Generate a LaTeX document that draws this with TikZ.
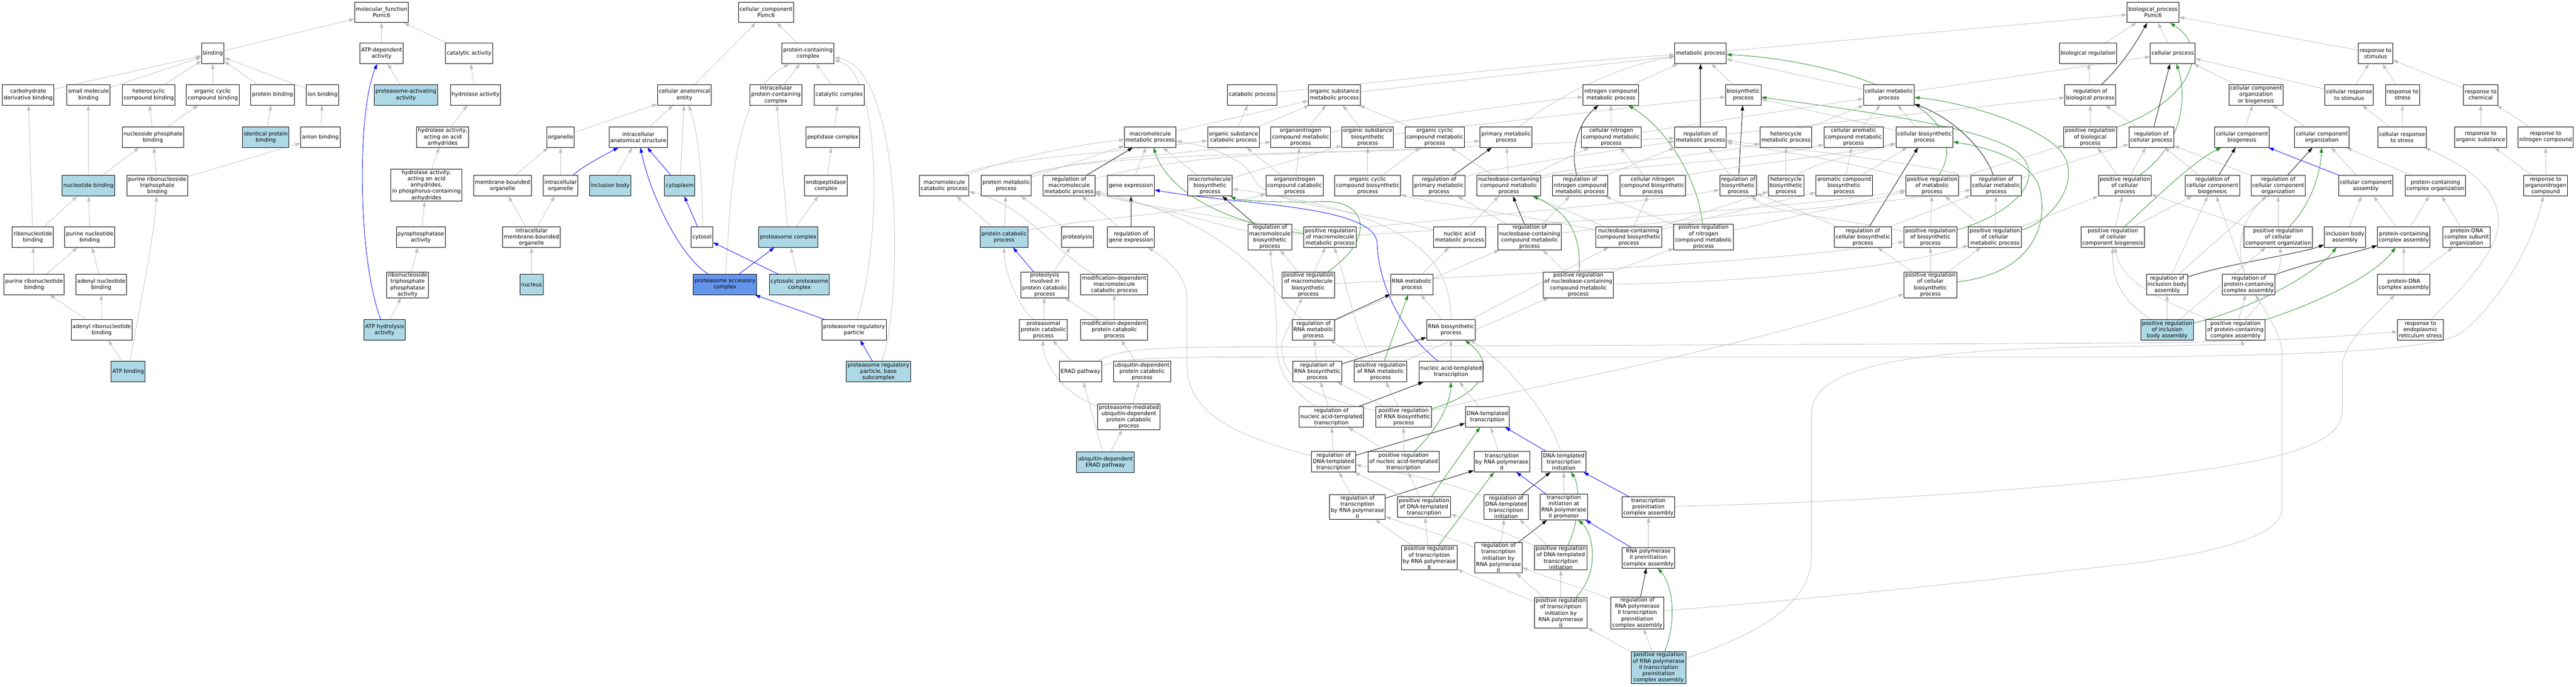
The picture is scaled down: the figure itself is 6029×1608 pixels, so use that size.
\documentclass[tikz,border=0pt]{standalone}
\usepackage{fontspec}
\setmainfont{DejaVu Sans}
\usetikzlibrary{arrows.meta,
  backgrounds}
\definecolor{edgegray}{RGB}{190,190,190}
\definecolor{forest}{RGB}{34,139,34}
\definecolor{lightblue}{RGB}{173,216,230}
\definecolor{cornflower}{RGB}{100,149,237}
\newcommand{\gofont}{\fontsize{12.6}{14.6}\selectfont}

\begin{document}
\begin{tikzpicture}[x=1pt,y=-1pt]
      \tikzstyle{term}=[draw=black,line width=1.2pt,fill=white,rectangle,align=center,inner xsep=3pt,inner ysep=2pt,minimum height=48pt,font=\gofont]
      \tikzstyle{hit}=[term,fill=lightblue]
      \tikzstyle{sel}=[term,fill=cornflower]
      \tikzstyle{isa}=[draw=edgegray,line width=1pt,-{Triangle[length=12pt,width=8pt]}]
      \tikzstyle{reg}=[isa,draw=black]
      \tikzstyle{preg}=[isa,draw=forest]
      \tikzstyle{prt}=[isa,draw=blue]
      \useasboundingbox (0,0) rectangle (6029,1608);
      % molecular function
      \node[term] (mf) at (893,29) {molecular\_function\\Psmc6};
      \node[term] (bind) at (498,125) {binding};
      \node[term] (atpdep) at (893,125) {ATP-dependent\\activity};
      \node[term] (cat) at (1098,125) {catalytic activity};
      \node[term] (carb) at (66,222) {carbohydrate\\derivative binding};
      \node[term] (smol) at (207,222) {small molecule\\binding};
      \node[term] (hetb) at (348,222) {heterocyclic\\compound binding};
      \node[term] (ocb) at (498,222) {organic cyclic\\compound binding};
      \node[term] (protb) at (638,222) {protein binding};
      \node[term] (ionb) at (755,222) {ion binding};
      \node[hit] (pact) at (950,222) {proteasome-activating\\activity};
      \node[term] (hydr) at (1113,222) {hydrolase activity};
      \node[term] (nspb) at (358,321) {nucleoside phosphate\\binding};
      \node[hit] (idpb) at (622,321) {identical protein\\binding};
      \node[term] (anb) at (750,321) {anion binding};
      \node[term] (hyacid) at (1036,321) {hydrolase activity,\\acting on acid\\anhydrides};
      \node[hit] (ntb) at (207,435) {nucleotide binding};
      \node[term] (prtb) at (368,435) {purine ribonucleoside\\triphosphate\\binding};
      \node[term] (hyphos) at (998,434) {hydrolase activity,\\acting on acid\\anhydrides,\\in phosphorus-containing\\anhydrides};
      \node[term] (rnb) at (77,555) {ribonucleotide\\binding};
      \node[term] (pnb) at (210,555) {purine nucleotide\\binding};
      \node[term] (ppase) at (985,555) {pyrophosphatase\\activity};
      \node[term] (prnb) at (80,666) {purine ribonucleotide\\binding};
      \node[term] (adnb) at (237,666) {adenyl nucleotide\\binding};
      \node[term] (rtpase) at (954,667) {ribonucleoside\\triphosphate\\phosphatase\\activity};
      \node[term] (arnb) at (238,772) {adenyl ribonucleotide\\binding};
      \node[hit] (atphyd) at (900,772) {ATP hydrolysis\\activity};
      \node[hit] (atpb) at (300,870) {ATP binding};
      % cellular component
      \node[term] (cc) at (1793,29) {cellular\_component\\Psmc6};
      \node[term] (pcc) at (1891,125) {protein-containing\\complex};
      \node[term] (cae) at (1602,222) {cellular anatomical\\entity};
      \node[term] (ipcc) at (1816,222) {intracellular\\protein-containing\\complex};
      \node[term] (catc) at (1964,222) {catalytic complex};
      \node[term] (org) at (1312,321) {organelle};
      \node[term] (ias) at (1494,321) {intracellular\\anatomical structure};
      \node[term] (pepc) at (1949,321) {peptidase complex};
      \node[term] (mbo) at (1176,435) {membrane-bounded\\organelle};
      \node[term] (io) at (1312,435) {intracellular\\organelle};
      \node[hit] (incb) at (1428,435) {inclusion body};
      \node[hit] (cyto) at (1591,435) {cytoplasm};
      \node[term] (endoc) at (1933,435) {endopeptidase\\complex};
      \node[term] (imbo) at (1244,555) {intracellular\\membrane-bounded\\organelle};
      \node[term] (cytosol) at (1643,555) {cytosol};
      \node[hit] (prc) at (1845,555) {proteasome complex};
      \node[hit] (nuc) at (1244,666) {nucleus};
      \node[sel] (pac) at (1697,666) {proteasome accessory\\complex};
      \node[hit] (cpc) at (1871,666) {cytosolic proteasome\\complex};
      \node[term] (prp) at (1999,772) {proteasome regulatory\\particle};
      \node[hit] (prpb) at (2056,870) {proteasome regulatory\\particle, base\\subcomplex};
      % biological process
      \node[term] (bp) at (5039,29) {biological\_process\\Psmc6};
      \node[term] (met) at (3980,125) {metabolic process};
      \node[term] (breg) at (4887,125) {biological regulation};
      \node[term] (cp) at (5085,125) {cellular process};
      \node[term] (rstim) at (5560,125) {response to\\stimulus};
      \node[term] (catp) at (2931,222) {catabolic process};
      \node[term] (osmp) at (3123,222) {organic substance\\metabolic process};
      \node[term] (nitm) at (3770,222) {nitrogen compound\\metabolic process};
      \node[term] (bios) at (4080,222) {biosynthetic\\process};
      \node[term] (cmp) at (4421,222) {cellular metabolic\\process};
      \node[term] (rbp) at (4892,222) {regulation of\\biological process};
      \node[term] (ccob) at (5280,222) {cellular component\\organization\\or biogenesis};
      \node[term] (crstim) at (5498,222) {cellular response\\to stimulus};
      \node[term] (rstress) at (5623,222) {response to\\stress};
      \node[term] (rchem) at (5806,222) {response to\\chemical};
      \node[term] (mmp) at (2692,321) {macromolecule\\metabolic process};
      \node[term] (oscp) at (2887,321) {organic substance\\catabolic process};
      \node[term] (onmp) at (3044,321) {organonitrogen\\compound metabolic\\process};
      \node[term] (osbp) at (3201,321) {organic substance\\biosynthetic\\process};
      \node[term] (occmp) at (3358,321) {organic cyclic\\compound metabolic\\process};
      \node[term] (pmp) at (3525,321) {primary metabolic\\process};
      \node[term] (cnmp) at (3771,321) {cellular nitrogen\\compound metabolic\\process};
      \node[term] (rmp) at (3980,321) {regulation of\\metabolic process};
      \node[term] (hmp) at (4180,321) {heterocycle\\metabolic process};
      \node[term] (camp) at (4338,321) {cellular aromatic\\compound metabolic\\process};
      \node[term] (cbp) at (4504,321) {cellular biosynthetic\\process};
      \node[term] (prbp) at (4892,321) {positive regulation\\of biological\\process};
      \node[term] (rcp) at (5035,321) {regulation of\\cellular process};
      \node[term] (ccb) at (5247,321) {cellular component\\biogenesis};
      \node[term] (cco) at (5434,321) {cellular component\\organization};
      \node[term] (crstress) at (5622,321) {cellular response\\to stress};
      \node[term] (rorg) at (5806,321) {response to\\organic substance};
      \node[term] (rnit) at (5958,321) {response to\\nitrogen compound};
      \node[term] (mcp) at (2210,435) {macromolecule\\catabolic process};
      \node[term] (protm) at (2355,435) {protein metabolic\\process};
      \node[term] (rmmp) at (2502,435) {regulation of\\macromolecule\\metabolic process};
      \node[term] (gex) at (2647,435) {gene expression};
      \node[term] (mbp) at (2832,435) {macromolecule\\biosynthetic\\process};
      \node[term] (onc) at (3030,435) {organonitrogen\\compound catabolic\\process};
      \node[term] (occb) at (3201,435) {organic cyclic\\compound biosynthetic\\process};
      \node[term] (rpmp) at (3368,435) {regulation of\\primary metabolic\\process};
      \node[term] (nbmp) at (3531,435) {nucleobase-containing\\compound metabolic\\process};
      \node[term] (rnitm) at (3698,435) {regulation of\\nitrogen compound\\metabolic process};
      \node[term] (cnbp) at (3868,435) {cellular nitrogen\\compound biosynthetic\\process};
      \node[term] (rbios) at (4068,435) {regulation of\\biosynthetic\\process};
      \node[term] (hbp) at (4180,435) {heterocycle\\biosynthetic\\process};
      \node[term] (abp) at (4316,435) {aromatic compound\\biosynthetic\\process};
      \node[term] (prmp) at (4522,435) {positive regulation\\of metabolic\\process};
      \node[term] (rcmp) at (4672,435) {regulation of\\cellular metabolic\\process};
      \node[term] (prcp) at (4973,435) {positive regulation\\of cellular\\process};
      \node[term] (rccb) at (5178,435) {regulation of\\cellular component\\biogenesis};
      \node[term] (rcco) at (5332,435) {regulation of\\cellular component\\organization};
      \node[term] (cca) at (5537,435) {cellular component\\assembly};
      \node[term] (pcco) at (5700,435) {protein-containing\\complex organization};
      \node[term] (ronc) at (5958,435) {response to\\organonitrogen\\compound};
      \node[hit] (pcat) at (2350,555) {protein catabolic\\process};
      \node[term] (prot) at (2522,555) {proteolysis};
      \node[term] (rgex) at (2647,555) {regulation of\\gene expression};
      \node[term] (rmbp) at (2972,555) {regulation of\\macromolecule\\biosynthetic\\process};
      \node[term] (prmmp) at (3113,555) {positive regulation\\of macromolecule\\metabolic process};
      \node[term] (namp) at (3416,555) {nucleic acid\\metabolic process};
      \node[term] (rnbmp) at (3580,555) {regulation of\\nucleobase-containing\\compound metabolic\\process};
      \node[term] (nbbp) at (3812,555) {nucleobase-containing\\compound biosynthetic\\process};
      \node[term] (prnitm) at (3987,555) {positive regulation\\of nitrogen\\compound metabolic\\process};
      \node[term] (rcbp) at (4360,555) {regulation of\\cellular biosynthetic\\process};
      \node[term] (prbios) at (4518,555) {positive regulation\\of biosynthetic\\process};
      \node[term] (prcmp) at (4669,555) {positive regulation\\of cellular\\metabolic process};
      \node[term] (prccb) at (4945,555) {positive regulation\\of cellular\\component biogenesis};
      \node[term] (prcco) at (5332,555) {positive regulation\\of cellular\\component organization};
      \node[term] (iba) at (5488,555) {inclusion body\\assembly};
      \node[term] (pcca) at (5626,555) {protein-containing\\complex assembly};
      \node[term] (pdnao) at (5773,555) {protein-DNA\\complex subunit\\organization};
      \node[term] (pipc) at (2445,667) {proteolysis\\involved in\\protein catabolic\\process};
      \node[term] (mdmc) at (2608,666) {modification-dependent\\macromolecule\\catabolic process};
      \node[term] (prmbp) at (3062,667) {positive regulation\\of macromolecule\\biosynthetic\\process};
      \node[term] (rnamp) at (3304,666) {RNA metabolic\\process};
      \node[term] (prnbmp) at (3694,667) {positive regulation\\of nucleobase-containing\\compound metabolic\\process};
      \node[term] (prcbp) at (4518,667) {positive regulation\\of cellular\\biosynthetic\\process};
      \node[term] (riba) at (5072,666) {regulation of\\inclusion body\\assembly};
      \node[term] (rpcca) at (5263,666) {regulation of\\protein-containing\\complex assembly};
      \node[term] (pdnaa) at (5626,666) {protein-DNA\\complex assembly};
      \node[term] (ppcp) at (2442,772) {proteasomal\\protein catabolic\\process};
      \node[term] (mdpc) at (2608,772) {modification-dependent\\protein catabolic\\process};
      \node[term] (rrnamp) at (3074,772) {regulation of\\RNA metabolic\\process};
      \node[term] (rnabp) at (3396,772) {RNA biosynthetic\\process};
      \node[hit] (priba) at (5072,772) {positive regulation\\of inclusion\\body assembly};
      \node[term] (prpcca) at (5232,772) {positive regulation\\of protein-containing\\complex assembly};
      \node[term] (rers) at (5665,772) {response to\\endoplasmic\\reticulum stress};
      \node[term] (erad) at (2529,870) {ERAD pathway};
      \node[term] (udpc) at (2673,870) {ubiquitin-dependent\\protein catabolic\\process};
      \node[term] (rrnabp) at (3083,870) {regulation of\\RNA biosynthetic\\process};
      \node[term] (prrnamp) at (3231,870) {positive regulation\\of RNA metabolic\\process};
      \node[term] (natt) at (3396,870) {nucleic acid-templated\\transcription};
      \node[term] (pmud) at (2642,976) {proteasome-mediated\\ubiquitin-dependent\\protein catabolic\\process};
      \node[term] (rnatt) at (3116,976) {regulation of\\nucleic acid-templated\\transcription};
      \node[term] (prrnabp) at (3285,976) {positive regulation\\of RNA biosynthetic\\process};
      \node[term] (dtt) at (3481,976) {DNA-templated\\transcription};
      \node[hit] (uerad) at (2587,1082) {ubiquitin-dependent\\ERAD pathway};
      \node[term] (rdtt) at (3121,1081) {regulation of\\DNA-templated\\transcription};
      \node[term] (prnatt) at (3285,1081) {positive regulation\\of nucleic acid-templated\\transcription};
      \node[term] (tpol) at (3515,1081) {transcription\\by RNA polymerase\\II};
      \node[term] (dtti) at (3660,1081) {DNA-templated\\transcription\\initiation};
      \node[term] (rtpol) at (3177,1187) {regulation of\\transcription\\by RNA polymerase\\II};
      \node[term] (prdtt) at (3333,1187) {positive regulation\\of DNA-templated\\transcription};
      \node[term] (rdtti) at (3525,1187) {regulation of\\DNA-templated\\transcription\\initiation};
      \node[term] (tipol) at (3660,1187) {transcription\\initiation at\\RNA polymerase\\II promoter};
      \node[term] (tpica) at (3858,1187) {transcription\\preinitiation\\complex assembly};
      \node[term] (prtpol) at (3345,1306) {positive regulation\\of transcription\\by RNA polymerase\\II};
      \node[term] (rtipol) at (3507,1306) {regulation of\\transcription\\initiation by\\RNA polymerase\\II};
      \node[term] (prdtti) at (3653,1306) {positive regulation\\of DNA-templated\\transcription\\initiation};
      \node[term] (pica) at (3858,1306) {RNA polymerase\\II preinitiation\\complex assembly};
      \node[term] (prtipol) at (3653,1435) {positive regulation\\of transcription\\initiation by\\RNA polymerase\\II};
      \node[term] (rpica) at (3832,1435) {regulation of\\RNA polymerase\\II transcription\\preinitiation\\complex assembly};
      \node[hit] (prpica) at (3882,1563) {positive regulation\\of RNA polymerase\\II transcription\\preinitiation\\complex assembly};

      \begin{scope}[on background layer]
      \fill[white] (0,0) rectangle (6029,1608);
      % molecular function edges
      \draw[isa] (bind) -- (mf);
      \draw[isa] (atpdep) -- (mf);
      \draw[isa] (cat) -- (mf);
      \draw[isa] (carb) -- (bind);
      \draw[isa] (smol) -- (bind);
      \draw[isa] (hetb) -- (bind);
      \draw[isa] (ocb) -- (bind);
      \draw[isa] (protb) -- (bind);
      \draw[isa] (ionb) -- (bind);
      \draw[isa] (pact) -- (atpdep);
      \draw[isa] (hydr) -- (cat);
      \draw[isa] (nspb) -- (hetb);
      \draw[isa] (nspb) -- (ocb);
      \draw[isa] (idpb) -- (protb);
      \draw[isa] (anb) -- (ionb);
      \draw[isa] (hyacid) -- (hydr);
      \draw[isa] (ntb) -- (smol);
      \draw[isa] (ntb) -- (nspb);
      \draw[isa] (prtb) -- (nspb);
      \draw[isa] (prtb) -- (anb);
      \draw[isa] (hyphos) -- (hyacid);
      \draw[isa] (rnb) -- (carb);
      \draw[isa] (rnb) -- (ntb);
      \draw[isa] (pnb) -- (ntb);
      \draw[isa] (ppase) -- (hyphos);
      \draw[isa] (prnb) -- (rnb);
      \draw[isa] (prnb) -- (pnb);
      \draw[isa] (adnb) -- (pnb);
      \draw[isa] (rtpase) -- (ppase);
      \draw[isa] (arnb) -- (prnb);
      \draw[isa] (arnb) -- (adnb);
      \draw[isa] (atphyd) -- (rtpase);
      \draw[prt] (atphyd) .. controls (836,600) and (836,260) .. (atpdep);
      \draw[isa] (atpb) -- (arnb);
      \draw[isa] (atpb) .. controls (330,700) and (360,560) .. (prtb);
      % cellular component edges
      \draw[isa] (cae) -- (cc);
      \draw[isa] (pcc) -- (cc);
      \draw[isa] (ipcc) -- (pcc);
      \draw[isa] (catc) -- (pcc);
      \draw[isa] (org) -- (cae);
      \draw[isa] (ias) -- (cae);
      \draw[isa] (cyto) -- (cae);
      \draw[isa] (cytosol) .. controls (1646,420) and (1632,300) .. (cae);
      \draw[isa] (pepc) -- (catc);
      \draw[isa] (endoc) -- (pepc);
      \draw[isa] (mbo) -- (org);
      \draw[isa] (io) -- (org);
      \draw[prt] (io) .. controls (1370,385) and (1420,360) .. (ias);
      \draw[isa] (incb) -- (ias);
      \draw[prt] (cyto) -- (ias);
      \draw[isa] (imbo) -- (mbo);
      \draw[isa] (imbo) -- (io);
      \draw[isa] (nuc) -- (imbo);
      \draw[prt] (cytosol) -- (cyto);
      \draw[isa] (prc) -- (ipcc);
      \draw[isa] (prc) -- (endoc);
      \draw[prt] (pac) -- (prc);
      \draw[prt] (pac) .. controls (1590,600) and (1520,450) .. (ias);
      \draw[isa] (pac) .. controls (1712,420) and (1720,220) .. (pcc);
      \draw[prt] (cpc) -- (cytosol);
      \draw[isa] (cpc) -- (prc);
      \draw[prt] (prp) -- (pac);
      \draw[isa] (prp) .. controls (2064,560) and (2064,170) .. (pcc);
      \draw[prt] (prpb) -- (prp);
      \draw[isa] (prpb) .. controls (2114,700) and (2114,160) .. (pcc);
      % biological process edges
      \draw[isa] (breg) -- (bp);
      \draw[isa] (cp) -- (bp);
      \draw[isa] (rstim) -- (bp);
      \draw[isa] (met) -- (bp);
      \draw[reg] (rbp) .. controls (4970,150) and (5005,90) .. (bp);
      \draw[preg] (prbp) .. controls (5140,230) and (5170,110) .. (bp);
      \draw[isa] (rbp) -- (breg);
      \draw[isa] (prbp) -- (rbp);
      \draw[reg] (rcp) -- (cp);
      \draw[isa] (rcp) -- (rbp);
      \draw[isa] (prcp) -- (rcp);
      \draw[isa] (prcp) -- (prbp);
      \draw[preg] (prcp) .. controls (5120,330) and (5115,210) .. (cp);
      \draw[isa] (ccob) -- (cp);
      \draw[isa] (crstim) -- (cp);
      \draw[isa] (cmp) -- (cp);
      \draw[isa] (cmp) -- (met);
      \draw[isa] (bios) -- (met);
      \draw[isa] (rstress) -- (rstim);
      \draw[isa] (rchem) -- (rstim);
      \draw[isa] (crstim) -- (rstim);
      \draw[isa] (ccb) -- (ccob);
      \draw[isa] (cco) -- (ccob);
      \draw[isa] (crstress) -- (crstim);
      \draw[isa] (crstress) -- (rstress);
      \draw[isa] (rorg) -- (rchem);
      \draw[isa] (rnit) -- (rchem);
      \draw[reg] (rccb) -- (ccb);
      \draw[isa] (rccb) -- (rcp);
      \draw[reg] (rcco) -- (cco);
      \draw[isa] (rcco) -- (rcp);
      \draw[prt] (cca) -- (ccb);
      \draw[isa] (cca) -- (cco);
      \draw[isa] (pcco) -- (cco);
      \draw[isa] (ronc) -- (rorg);
      \draw[isa] (ronc) -- (rnit);
      \draw[preg] (prccb) .. controls (5050,460) and (5130,380) .. (ccb);
      \draw[isa] (prccb) -- (rccb);
      \draw[isa] (prccb) -- (prcp);
      \draw[preg] (prcco) .. controls (5410,480) and (5432,400) .. (cco);
      \draw[isa] (prcco) -- (rcco);
      \draw[isa] (prcco) -- (prcp);
      \draw[isa] (iba) -- (cca);
      \draw[isa] (pcca) -- (cca);
      \draw[isa] (pcca) -- (pcco);
      \draw[isa] (pdnao) -- (pcco);
      \draw[reg] (riba) .. controls (5200,620) and (5380,595) .. (iba);
      \draw[isa] (riba) -- (rccb);
      \draw[isa] (riba) -- (rcco);
      \draw[reg] (rpcca) .. controls (5400,615) and (5500,595) .. (pcca);
      \draw[isa] (rpcca) -- (rccb);
      \draw[isa] (rpcca) .. controls (5225,560) and (5260,500) .. (rcco);
      \draw[isa] (pdnaa) -- (pcca);
      \draw[isa] (pdnaa) -- (pdnao);
      \draw[isa] (priba) -- (riba);
      \draw[preg] (priba) .. controls (5280,720) and (5420,640) .. (iba);
      \draw[isa] (priba) -- (prcco);
      \draw[isa] (priba) .. controls (4960,700) and (4943,650) .. (prccb);
      \draw[isa] (prpcca) -- (rpcca);
      \draw[preg] (prpcca) .. controls (5450,700) and (5560,640) .. (pcca);
      \draw[isa] (prpcca) .. controls (5300,700) and (5345,640) .. (prcco);
      \draw[isa] (prpcca) .. controls (5050,700) and (4965,660) .. (prccb);
      \draw[isa] (rers) .. controls (5800,640) and (5860,560) .. (5846,500) .. controls (5830,420) and (5750,380) .. (crstress);
      \draw[isa] (erad) .. controls (2620,815) and (2700,812) .. (3000,812) -- (5000,803) .. controls (5300,800) and (5450,790) .. (rers);
      \draw[isa] (erad) .. controls (2640,838) and (2700,836) .. (3000,836) -- (5000,836) .. controls (5500,830) and (5700,815) .. (5760,780) .. controls (5860,700) and (5930,560) .. (ronc);
      \draw[isa] (tpica) .. controls (4400,1175) and (4800,1140) .. (5000,1120) .. controls (5350,1080) and (5482,1040) .. (5482,960) -- (5482,860) .. controls (5482,800) and (5560,740) .. (pdnaa);
      \draw[isa] (rpica) .. controls (4400,1390) and (4800,1340) .. (5000,1318) .. controls (5250,1285) and (5341,1240) .. (5341,1190) -- (5341,830) .. controls (5341,790) and (5310,740) .. (rpcca);
      \draw[isa] (prpica) .. controls (4100,1490) and (4240,1420) .. (4240,1300) -- (4240,970) .. controls (4240,870) and (4400,815) .. (5000,811) .. controls (5150,808) and (5249,805) .. (prpcca);
      % metabolism edges
      \draw[preg] (prmp) .. controls (4640,250) and (4300,140) .. (met);
      \draw[preg] (prbios) .. controls (4700,505) and (4800,420) .. (4720,355) .. controls (4640,300) and (4400,265) .. (bios);
      \draw[preg] (prcmp) .. controls (4800,520) and (4880,420) .. (4820,350) .. controls (4760,290) and (4600,240) .. (cmp);
      \draw[preg] (prcbp) .. controls (4760,640) and (4800,520) .. (4770,430) .. controls (4740,370) and (4650,345) .. (cbp);
      \draw[reg] (rcmp) .. controls (4650,360) and (4580,280) .. (cmp);
      \draw[reg] (rcbp) -- (cbp);
      \draw[reg] (rbios) -- (bios);
      \draw[isa] (hmp) -- (cmp);
      \draw[isa] (camp) -- (cmp);
      \draw[isa] (cbp) -- (cmp);
      \draw[isa] (cbp) -- (bios);
      \draw[reg] (rmp) -- (met);
      \draw[isa] (rmp) -- (rbp);
      \draw[isa] (cnmp) -- (cmp);
      \draw[isa] (osbp) -- (bios);
      \draw[isa] (rbios) -- (rmp);
      \draw[isa] (prmp) .. controls (4300,370) and (4100,345) .. (rmp);
      \draw[isa] (prmp) -- (prbp);
      \draw[isa] (rcmp) .. controls (4500,380) and (4200,350) .. (rmp);
      \draw[isa] (rcmp) -- (rcp);
      \draw[isa] (hbp) -- (hmp);
      \draw[isa] (hbp) .. controls (4230,390) and (4300,370) .. (cbp);
      \draw[isa] (abp) -- (camp);
      \draw[isa] (abp) -- (cbp);
      \draw[isa] (rcbp) -- (rbios);
      \draw[isa] (rcbp) -- (rcmp);
      \draw[isa] (prbios) .. controls (4300,510) and (4150,500) .. (rbios);
      \draw[isa] (prbios) -- (prmp);
      \draw[isa] (prcmp) -- (prmp);
      \draw[isa] (prcmp) -- (rcmp);
      \draw[isa] (prcmp) -- (prcp);
      \draw[isa] (prcbp) -- (rcbp);
      \draw[isa] (prcbp) -- (prbios);
      \draw[isa] (prcbp) -- (prcmp);
      \draw[isa] (prnitm) -- (prmp);
      \draw[isa] (osmp) -- (met);
      \draw[isa] (nitm) -- (met);
      \draw[isa] (pmp) .. controls (3650,220) and (3800,150) .. (met);
      \draw[isa] (catp) .. controls (3300,185) and (3700,140) .. (met);
      \draw[isa] (mmp) -- (osmp);
      \draw[isa] (oscp) -- (osmp);
      \draw[isa] (oscp) -- (catp);
      \draw[isa] (onmp) -- (osmp);
      \draw[isa] (onmp) .. controls (3300,280) and (3600,235) .. (nitm);
      \draw[isa] (osbp) -- (osmp);
      \draw[isa] (occmp) -- (osmp);
      \draw[isa] (cnmp) -- (nitm);
      \draw[reg] (rnitm) .. controls (3675,360) and (3690,290) .. (nitm);
      \draw[preg] (prnitm) .. controls (3975,420) and (3900,300) .. (nitm);
      \draw[reg] (rpmp) -- (pmp);
      \draw[isa] (rpmp) .. controls (3500,390) and (3800,350) .. (rmp);
      \draw[isa] (nbmp) -- (pmp);
      \draw[isa] (nbmp) -- (occmp);
      \draw[isa] (nbmp) -- (cnmp);
      \draw[isa] (nbmp) .. controls (3700,385) and (4000,365) .. (hmp);
      \draw[isa] (nbmp) .. controls (3700,395) and (4100,380) .. (camp);
      \draw[isa] (rnitm) -- (rmp);
      \draw[isa] (cnbp) -- (cnmp);
      \draw[isa] (cnbp) .. controls (4000,395) and (4300,365) .. (cbp);
      \draw[isa] (onc) -- (onmp);
      \draw[isa] (onc) -- (oscp);
      \draw[isa] (occb) -- (osbp);
      \draw[isa] (occb) -- (occmp);
      \draw[isa] (mcp) .. controls (2330,380) and (2500,340) .. (mmp);
      \draw[isa] (mcp) .. controls (2320,370) and (2600,360) .. (oscp);
      \draw[isa] (protm) -- (mmp);
      \draw[isa] (protm) .. controls (2500,372) and (2800,360) .. (onmp);
      \draw[isa] (protm) .. controls (2500,366) and (3000,357) .. (3300,352) -- (pmp);
      \draw[reg] (rmmp) -- (mmp);
      \draw[isa] (rmmp) .. controls (2700,380) and (2900,362) .. (3000,361) -- (rmp);
      \draw[isa] (gex) -- (mmp);
      \draw[isa] (mbp) -- (mmp);
      \draw[isa] (mbp) .. controls (2950,395) and (3050,370) .. (osbp);
      \draw[isa] (pcat) -- (mcp);
      \draw[isa] (pcat) -- (protm);
      \draw[isa] (pcat) .. controls (2500,515) and (2800,500) .. (onc);
      \draw[isa] (prot) -- (protm);
      \draw[reg] (rgex) -- (gex);
      \draw[isa] (rgex) -- (rmmp);
      \draw[isa] (rmbp) -- (rmmp);
      \draw[reg] (rmbp) -- (mbp);
      \draw[isa] (rmbp) .. controls (3300,520) and (3900,470) .. (rbios);
      \draw[isa] (prmmp) .. controls (2950,520) and (2650,480) .. (rmmp);
      \draw[preg] (prmmp) .. controls (2850,520) and (2730,440) .. (mmp);
      \draw[isa] (prmmp) .. controls (3500,530) and (4200,490) .. (prmp);
      \draw[isa] (namp) -- (nbmp);
      \draw[isa] (namp) .. controls (3200,495) and (2960,480) .. (2935,420) .. controls (2920,380) and (2850,345) .. (mmp);
      \draw[reg] (rnbmp) -- (nbmp);
      \draw[isa] (rnbmp) -- (rpmp);
      \draw[isa] (rnbmp) -- (rnitm);
      \draw[isa] (rnbmp) .. controls (3900,515) and (4400,480) .. (rcmp);
      \draw[isa] (nbbp) -- (nbmp);
      \draw[isa] (nbbp) -- (cnbp);
      \draw[isa] (nbbp) -- (hbp);
      \draw[isa] (nbbp) -- (abp);
      \draw[isa] (nbbp) .. controls (3600,510) and (3350,475) .. (occb);
      \draw[isa] (prnitm) -- (rnitm);
      \draw[isa] (prmbp) -- (rmbp);
      \draw[isa] (prmbp) -- (prmmp);
      \draw[preg] (prmbp) .. controls (3220,560) and (3200,470) .. (3100,472) .. controls (3000,475) and (2900,470) .. (mbp);
      \draw[isa] (prmbp) .. controls (3600,640) and (4200,610) .. (prbios);
      \draw[isa] (rnamp) -- (namp);
      \draw[isa] (prnbmp) -- (rnbmp);
      \draw[preg] (prnbmp) .. controls (3700,560) and (3680,500) .. (nbmp);
      \draw[isa] (prnbmp) -- (prnitm);
      \draw[isa] (prnbmp) .. controls (4000,662) and (4400,640) .. (prcmp);
      \draw[reg] (rrnamp) -- (rnamp);
      \draw[isa] (rrnamp) -- (rnbmp);
      \draw[isa] (rrnamp) .. controls (2990,700) and (2900,520) .. (rmmp);
      \draw[isa] (rnabp) -- (rnamp);
      \draw[isa] (rnabp) -- (nbbp);
      \draw[isa] (rnabp) .. controls (3395,600) and (3300,500) .. (mbp);
      \draw[isa] (natt) -- (rnabp);
      % protein catabolism edges
      \draw[prt] (pipc) -- (pcat);
      \draw[isa] (pipc) -- (prot);
      \draw[isa] (mdmc) .. controls (2480,600) and (2400,480) .. (mcp);
      \draw[isa] (ppcp) -- (pipc);
      \draw[isa] (ppcp) .. controls (2370,700) and (2350,620) .. (pcat);
      \draw[isa] (mdpc) -- (mdmc);
      \draw[isa] (mdpc) -- (pipc);
      \draw[isa] (udpc) -- (mdpc);
      \draw[isa] (pmud) -- (udpc);
      \draw[isa] (pmud) .. controls (2480,920) and (2440,840) .. (ppcp);
      \draw[isa] (erad) -- (ppcp);
      \draw[isa] (uerad) -- (erad);
      \draw[isa] (uerad) -- (pmud);
      % transcription edges
      \draw[reg] (rrnabp) -- (rnabp);
      \draw[isa] (rrnabp) -- (rrnamp);
      \draw[preg] (prrnamp) -- (rnamp);
      \draw[isa] (prrnamp) -- (rrnamp);
      \draw[isa] (prrnamp) -- (prnbmp);
      \draw[isa] (prrnamp) .. controls (3170,780) and (3150,650) .. (prmmp);
      \draw[prt] (natt) .. controls (3260,760) and (3225,640) .. (3223,570) .. controls (3220,480) and (2900,480) .. (gex);
      \draw[reg] (rnatt) -- (natt);
      \draw[isa] (rnatt) -- (rrnabp);
      \draw[isa] (rnatt) .. controls (3000,900) and (2988,850) .. (2988,800) .. controls (2988,700) and (2975,620) .. (rmbp);
      \draw[preg] (prrnabp) .. controls (3480,920) and (3500,850) .. (rnabp);
      \draw[isa] (prrnabp) -- (prrnamp);
      \draw[isa] (prrnabp) -- (rrnabp);
      \draw[isa] (prrnabp) .. controls (3700,880) and (4100,810) .. (prcbp);
      \draw[isa] (prrnabp) .. controls (3050,925) and (2995,880) .. (3000,800) -- (prmbp);
      \draw[isa] (dtt) -- (natt);
      \draw[reg] (rdtt) -- (dtt);
      \draw[isa] (rdtt) -- (rnatt);
      \draw[isa] (rdtt) .. controls (2850,1010) and (2778,950) .. (2778,850) -- (2778,700) .. controls (2778,640) and (2720,600) .. (rgex);
      \draw[preg] (prnatt) .. controls (3370,1000) and (3395,940) .. (natt);
      \draw[isa] (prnatt) -- (prrnabp);
      \draw[isa] (prnatt) -- (rnatt);
      \draw[isa] (tpol) -- (dtt);
      \draw[prt] (dtti) -- (dtt);
      \draw[isa] (dtti) .. controls (3620,950) and (3500,830) .. (rnabp);
      \draw[reg] (rtpol) -- (tpol);
      \draw[isa] (rtpol) -- (rdtt);
      \draw[preg] (prdtt) -- (dtt);
      \draw[isa] (prdtt) -- (rdtt);
      \draw[isa] (prdtt) -- (prnatt);
      \draw[reg] (rdtti) -- (dtti);
      \draw[isa] (rdtti) .. controls (3400,1130) and (3250,1100) .. (rdtt);
      \draw[isa] (tipol) -- (dtti);
      \draw[prt] (tipol) -- (tpol);
      \draw[prt] (tpica) -- (dtti);
      \draw[preg] (prtpol) -- (tpol);
      \draw[isa] (prtpol) -- (rtpol);
      \draw[isa] (prtpol) -- (prdtt);
      \draw[reg] (rtipol) -- (tipol);
      \draw[isa] (rtipol) .. controls (3400,1260) and (3300,1230) .. (rtpol);
      \draw[isa] (rtipol) -- (rdtti);
      \draw[preg] (prdtti) .. controls (3695,1230) and (3700,1140) .. (dtti);
      \draw[isa] (prdtti) .. controls (3520,1245) and (3450,1220) .. (prdtt);
      \draw[isa] (prdtti) -- (rdtti);
      \draw[prt] (pica) -- (tipol);
      \draw[isa] (pica) -- (tpica);
      \draw[preg] (prtipol) .. controls (3745,1340) and (3730,1250) .. (tipol);
      \draw[isa] (prtipol) -- (prtpol);
      \draw[isa] (prtipol) -- (rtipol);
      \draw[isa] (prtipol) -- (prdtti);
      \draw[reg] (rpica) -- (pica);
      \draw[isa] (rpica) .. controls (3720,1380) and (3640,1360) .. (rtipol);
      \draw[isa] (prpica) -- (rpica);
      \draw[preg] (prpica) .. controls (3925,1450) and (3915,1370) .. (pica);
      \draw[isa] (prpica) -- (prtipol);
      \end{scope}
\end{tikzpicture}
\end{document}
